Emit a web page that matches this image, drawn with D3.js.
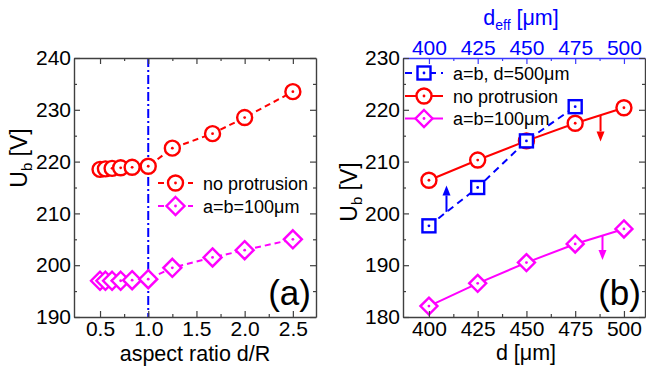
<!DOCTYPE html>
<html lang="en">
<head>
  <meta charset="UTF-8" />
  <title>Breakdown voltage vs aspect ratio and gap</title>
  <script src="https://d3js.org/d3.v7.min.js"></script>
  <style>
    body { margin: 0; padding: 0; background: #fff; }
    svg { display: block; font-family: "Liberation Sans", Arial, sans-serif; }
  </style>
</head>
<body>
  <div id="chart"></div>

  <script>
    // ---- panel (a) data: U_b vs aspect ratio d/R
    const ratioA = [0.5, 0.556, 0.625, 0.714, 0.833, 1.0, 1.25, 1.667, 2.0, 2.5];
    const noProtA = [218.5, 218.6, 218.7, 218.8, 218.9, 219.1, 222.6, 225.4, 228.5, 233.5];
    const ab100A  = [197.0, 197.0, 197.0, 197.0, 197.1, 197.3, 199.5, 201.5, 202.9, 205.0];
    const refRatio = 1.0;
    const ticksA_x = [0.5, 1.0, 1.5, 2.0, 2.5];
    const ticksA_y = [190, 200, 210, 220, 230, 240];

    // ---- panel (b) data: U_b vs d (and d_eff on top)
    const dB = [400, 425, 450, 475, 500];
    const noProtB = [206.4, 210.3, 214.0, 217.4, 220.4];
    const ab100B  = [182.1, 186.5, 190.5, 194.1, 197.0];
    const deffB   = [400, 425, 450, 475];
    const ab500B  = [197.6, 205.0, 214.0, 220.6];
    const ticksB_x = [400, 425, 450, 475, 500];
    const ticksB_y = [180, 190, 200, 210, 220, 230];
    // arrows: x position, start value, end value
    const arrowX    = [409, 488, 489];
    const arrowFrom = [200.3, 218.9, 195.7];
    const arrowTo   = [205.4, 213.9, 191.0];

    const W = 646, H = 366;
    const RED = "#ff0000", MAG = "#ff00ff", BLUE = "#0000ff", AX = "#404040";
    const TICK_FS = 21, TITLE_FS = 21.5, LEG_FS = 18;

    const svg = d3.select("#chart").append("svg")
      .attr("width", W).attr("height", H);

    // scales
    const xA = d3.scaleLinear().domain([0.23, 2.74]).range([74, 316]);
    const yA = d3.scaleLinear().domain([190, 240]).range([317, 58]);
    const xB = d3.scaleLinear().domain([386.7, 510.8]).range([403, 645]);
    const yB = d3.scaleLinear().domain([180, 230]).range([317, 58]);

    function minorsOf(majors, step) {
      const out = [];
      for (let i = 0; i < majors.length; i++) {
        out.push(majors[i] + step);
        out.push(majors[i] - step);
      }
      return Array.from(new Set(out)).filter(v => !majors.includes(v));
    }

    // frame + ticks for one panel
    function drawFrame(x, y, xt, yt, xStep, yStep, xFmt, topColor, topLabels) {
      const g = svg.append("g");
      const [x0, x1] = x.range();
      const [y0, y1] = y.range();
      const xm = minorsOf(xt, xStep).filter(v => x(v) > x0 + 2 && x(v) < x1 - 1);
      const ym = minorsOf(yt, yStep).filter(v => y(v) < y0 - 1 && y(v) > y1 + 1);
      const yFmt = d3.format("d");

      const axes = [
        { ax: d3.axisBottom(x), t: `translate(0,${y0})`, vals: xt, mv: xm, fmt: xFmt, col: AX, pad: 4 },
        { ax: d3.axisTop(x), t: `translate(0,${y1})`, vals: xt, mv: xm, fmt: topLabels ? xFmt : "", col: topColor, pad: 3 },
        { ax: d3.axisLeft(y), t: `translate(${x0},0)`, vals: yt, mv: ym, fmt: yFmt, col: AX, pad: 3 },
        { ax: d3.axisRight(y), t: `translate(${x1},0)`, vals: yt, mv: ym, fmt: "", col: AX, pad: 3 }
      ];
      axes.forEach(a => {
        const major = g.append("g").attr("transform", a.t)
          .call(a.ax.tickValues(a.vals).tickSizeInner(-6).tickSizeOuter(0).tickPadding(a.pad)
            .tickFormat(a.fmt));
        major.select(".domain").attr("stroke", a.col).attr("stroke-width", 1.4);
        major.selectAll(".tick line").attr("stroke", a.col).attr("stroke-width", 1.2);
        major.selectAll(".tick text").attr("font-size", TICK_FS)
          .attr("fill", a.col === AX ? "#000" : BLUE);
        const minor = g.append("g").attr("transform", a.t)
          .call(a.ax.tickValues(a.mv).tickSizeInner(-3).tickSizeOuter(0).tickFormat(""));
        minor.select(".domain").remove();
        minor.selectAll(".tick line").attr("stroke", a.col).attr("stroke-width", 1.2);
      });
      return g;
    }

    // markers
    function circleMark(g, cx, cy, r, col) {
      g.append("circle").attr("cx", cx).attr("cy", cy).attr("r", r)
        .attr("fill", "#fff").attr("stroke", col).attr("stroke-width", 2.4);
      g.append("circle").attr("cx", cx).attr("cy", cy).attr("r", 1.4).attr("fill", col);
    }
    function diamondMark(g, cx, cy, r, col) {
      g.append("path").attr("d", `M${cx},${cy - r}L${cx + r},${cy}L${cx},${cy + r}L${cx - r},${cy}Z`)
        .attr("fill", "#fff").attr("stroke", col).attr("stroke-width", 2.4);
      g.append("circle").attr("cx", cx).attr("cy", cy).attr("r", 1.4).attr("fill", col);
    }
    function squareMark(g, cx, cy, r, col) {
      g.append("rect").attr("x", cx - r).attr("y", cy - r).attr("width", 2 * r).attr("height", 2 * r)
        .attr("fill", "#fff").attr("stroke", col).attr("stroke-width", 2.4);
      g.append("circle").attr("cx", cx).attr("cy", cy).attr("r", 1.4).attr("fill", col);
    }

    function series(g, x, y, xs, ys, col, dash, mark, r) {
      const line = d3.line().x((d, i) => x(xs[i])).y(d => y(d));
      g.append("path").datum(ys).attr("d", line)
        .attr("fill", "none").attr("stroke", col).attr("stroke-width", 2)
        .attr("stroke-dasharray", dash);
      ys.forEach((v, i) => mark(g, x(xs[i]), y(v), r, col));
    }

    function legendRow(g, x0, x1, yy, col, dash, mark, r, label) {
      g.append("line").attr("x1", x0).attr("x2", x1).attr("y1", yy).attr("y2", yy)
        .attr("stroke", col).attr("stroke-width", 2).attr("stroke-dasharray", dash);
      mark(g, (x0 + x1) / 2, yy, r, col);
      g.append("text").attr("x", x1 + 10).attr("y", yy + 6.5)
        .attr("font-size", LEG_FS).attr("fill", "#000").text(label);
    }

    function yTitle(cx, cy) {
      const t = svg.append("text")
        .attr("transform", `translate(${cx},${cy}) rotate(-90)`)
        .attr("text-anchor", "middle").attr("font-size", 23);
      t.append("tspan").text("U");
      t.append("tspan").attr("font-size", 15).attr("dy", 5).text("b");
      t.append("tspan").attr("dy", -5).text(" [V]");
    }

    // ================= panel (a)
    const ga = svg.append("g");
    ga.append("line")
      .attr("x1", xA(refRatio)).attr("x2", xA(refRatio))
      .attr("y1", yA(240)).attr("y2", yA(190))
      .attr("stroke", BLUE).attr("stroke-width", 2)
      .attr("stroke-dasharray", "9,3,2,3");
    series(ga, xA, yA, ratioA, ab100A, MAG, "6,4", diamondMark, 9);
    series(ga, xA, yA, ratioA, noProtA, RED, "6,4", circleMark, 7.5);
    drawFrame(xA, yA, ticksA_x, ticksA_y, 0.25, 5, d3.format(".1f"), AX, false);

    legendRow(ga, 158, 193, 183, RED, "6,4", circleMark, 7.5, "no protrusion");
    legendRow(ga, 158, 193, 206, MAG, "6,4", diamondMark, 9, "a=b=100μm");

    svg.append("text").attr("x", 311).attr("y", 305).attr("text-anchor", "end")
      .attr("font-size", 35).text("(a)");
    svg.append("text").attr("x", 195).attr("y", 361).attr("text-anchor", "middle")
      .attr("font-size", TITLE_FS).text("aspect ratio d/R");
    yTitle(27, 158);

    // ================= panel (b)
    const gb = svg.append("g");
    series(gb, xB, yB, dB, noProtB, RED, null, circleMark, 7.5);
    series(gb, xB, yB, dB, ab100B, MAG, null, diamondMark, 8.5);
    series(gb, xB, yB, deffB, ab500B, BLUE, "7,5", squareMark, 6.5);

    const arrowCols = [BLUE, RED, MAG];
    arrowX.forEach((ax, i) => {
      const px = xB(ax), ya = yB(arrowFrom[i]), yb = yB(arrowTo[i]);
      const dir = yb < ya ? -1 : 1;
      const head = 10;
      gb.append("line").attr("x1", px).attr("x2", px).attr("y1", ya).attr("y2", yb - dir * head)
        .attr("stroke", arrowCols[i]).attr("stroke-width", 2);
      gb.append("path")
        .attr("d", `M${px},${yb}L${px - 4},${yb - dir * head}L${px + 4},${yb - dir * head}Z`)
        .attr("fill", arrowCols[i]);
    });

    drawFrame(xB, yB, ticksB_x, ticksB_y, 12.5, 5, d3.format("d"), "#3a3aff", true);

    legendRow(gb, 405, 443, 73, BLUE, "7,5", squareMark, 6.5, "a=b, d=500μm");
    legendRow(gb, 405, 443, 96, RED, null, circleMark, 7.5, "no protrusion");
    legendRow(gb, 405, 443, 118.5, MAG, null, diamondMark, 8.5, "a=b=100μm");

    svg.append("text").attr("x", 641).attr("y", 305).attr("text-anchor", "end")
      .attr("font-size", 35).text("(b)");
    svg.append("text").attr("x", 526).attr("y", 360).attr("text-anchor", "middle")
      .attr("font-size", TITLE_FS).text("d [μm]");
    const topT = svg.append("text").attr("x", 521).attr("y", 25).attr("text-anchor", "middle")
      .attr("font-size", TITLE_FS).attr("fill", BLUE);
    topT.append("tspan").text("d");
    topT.append("tspan").attr("font-size", 14).attr("dy", 5).text("eff");
    topT.append("tspan").attr("dy", -5).text(" [μm]");
    yTitle(357, 192);
  </script>
</body>
</html>
